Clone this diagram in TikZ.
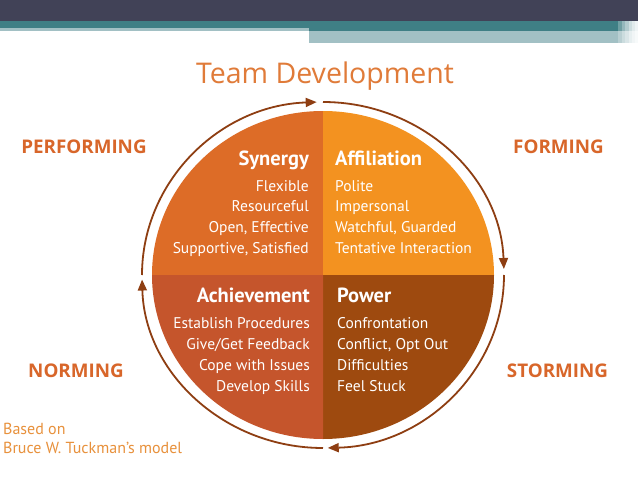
\documentclass[tikz,border=0pt]{standalone}
\usepackage{fontspec}
\usetikzlibrary{arrows.meta}
\newfontfamily\bodyfont{PT Sans}
\newfontfamily\titlefont{Open Sans}
\definecolor{banddark}{HTML}{414257}
\definecolor{bandteal}{HTML}{3F7F85}
\definecolor{bandlight}{HTML}{A2C0C4}
\definecolor{titleor}{HTML}{E07B39}
\definecolor{stageor}{HTML}{D8662A}
\definecolor{qsyn}{HTML}{DD6C27}
\definecolor{qaff}{HTML}{F39220}
\definecolor{qach}{HTML}{C5552C}
\definecolor{qpow}{HTML}{9E4A0F}
\definecolor{arrowbr}{HTML}{8E3E12}
\definecolor{basedor}{HTML}{E8913C}
\tikzset{
  cyclearrow/.style={draw=arrowbr, line width=1.8pt, -{Triangle[length=11pt,width=9pt]}},
  quadhead/.style={inner sep=0pt, text=white, font=\bodyfont\bfseries\fontsize{20.5}{24}\selectfont},
  quadline/.style={inner sep=0pt, text=white, font=\bodyfont\fontsize{15.5}{19}\selectfont},
  stagelabel/.style={inner sep=0pt, text=stageor, font=\titlefont\bfseries\fontsize{18.8}{22}\selectfont, anchor=base},
  basedtext/.style={inner sep=0pt, text=basedor, font=\bodyfont\fontsize{16}{19}\selectfont, anchor=base west},
}
\begin{document}
\begin{tikzpicture}[x=1pt,y=1pt]
\useasboundingbox (0,0) rectangle (638,-479);
\fill[white] (0,0) rectangle (638,-479);
% top band
\fill[banddark] (0,0) rectangle (638,-21);
\fill[bandteal] (0,-21) rectangle (618,-28);
\fill[bandlight] (0,-28) rectangle (309,-31);
\fill[bandteal] (309,-28) rectangle (618,-31);
\fill[bandlight] (309,-31) rectangle (618,-43);
\foreach \xa/\xb/\op in {618/622/0.75, 622/625/0.55, 625/629/0.4, 629/632/0.25, 632/635/0.15, 635/638/0.08}{
  \fill[banddark, opacity=\op] (\xa,0) rectangle (\xb,-21);
  \fill[bandteal, opacity=\op] (\xa,-21) rectangle (\xb,-31);
  \fill[bandlight, opacity=\op] (\xa,-31) rectangle (\xb,-43);
}
% title
\node[inner sep=0pt, anchor=base, text=titleor, font=\titlefont\fontsize{28.5}{34}\selectfont] (title) at (325,-83) {Team Development};
% quadrants
\coordinate (c) at (323,-275);
\fill[qsyn] (c) -- ++(180:171pt and 164pt) arc[start angle=180, end angle=90, x radius=171pt, y radius=164pt] -- cycle;
\fill[qaff] (c) -- ++(90:171pt and 164pt) arc[start angle=90, end angle=0, x radius=171pt, y radius=164pt] -- cycle;
\fill[qpow] (c) -- ++(0:171pt and 164pt) arc[start angle=0, end angle=-90, x radius=171pt, y radius=164pt] -- cycle;
\fill[qach] (c) -- ++(-90:171pt and 164pt) arc[start angle=-90, end angle=-180, x radius=171pt, y radius=164pt] -- cycle;
% cycle arrows
\draw[cyclearrow] (c) ++(180:181pt and 173pt) arc[start angle=180, end angle=92, x radius=181pt, y radius=173pt];
\draw[cyclearrow] (c) ++(90:181pt and 173pt) arc[start angle=90, end angle=2, x radius=181pt, y radius=173pt];
\draw[cyclearrow] (c) ++(0:181pt and 173pt) arc[start angle=0, end angle=-88.5, x radius=181pt, y radius=173pt];
\draw[cyclearrow] (c) ++(-90:181pt and 173pt) arc[start angle=-90, end angle=-178.5, x radius=181pt, y radius=173pt];
% quadrant texts
\node[quadhead, anchor=base east] (syn) at (309,-165) {Synergy};
\foreach \t [count=\i] in {Flexible, Resourceful, {Open, Effective}, {Supportive, Satisfied}}
  \node[quadline, anchor=base east] (syn-\i) at (309,-170.3-20.7*\i) {\t};
\node[quadhead, anchor=base west] (aff) at (335,-165) {Affiliation};
\foreach \t [count=\i] in {Polite, Impersonal, {Watchful, Guarded}, Tentative Interaction}
  \node[quadline, anchor=base west] (aff-\i) at (335,-170.3-20.7*\i) {\t};
\node[quadhead, anchor=base east] (ach) at (310,-302) {Achievement};
\foreach \t [count=\i] in {Establish Procedures, Give/Get Feedback, Cope with Issues, Develop Skills}
  \node[quadline, anchor=base east] (ach-\i) at (310,-307-21*\i) {\t};
\node[quadhead, anchor=base west] (pow) at (337,-302) {Power};
\foreach \t [count=\i] in {Confrontation, {Conflict, Opt Out}, Difficulties, Feel Stuck}
  \node[quadline, anchor=base west] (pow-\i) at (337,-307-21*\i) {\t};
% stage labels
\node[stagelabel] (performing) at (84,-153) {PERFORMING};
\node[stagelabel] (forming) at (558.5,-153) {FORMING};
\node[stagelabel] (norming) at (76,-377) {NORMING};
\node[stagelabel] (storming) at (557.5,-377) {STORMING};
% source
\node[basedtext] (based1) at (3,-434) {Based on};
\node[basedtext] (based2) at (3,-453) {Bruce W. Tuckman’s model};
\end{tikzpicture}
\end{document}
